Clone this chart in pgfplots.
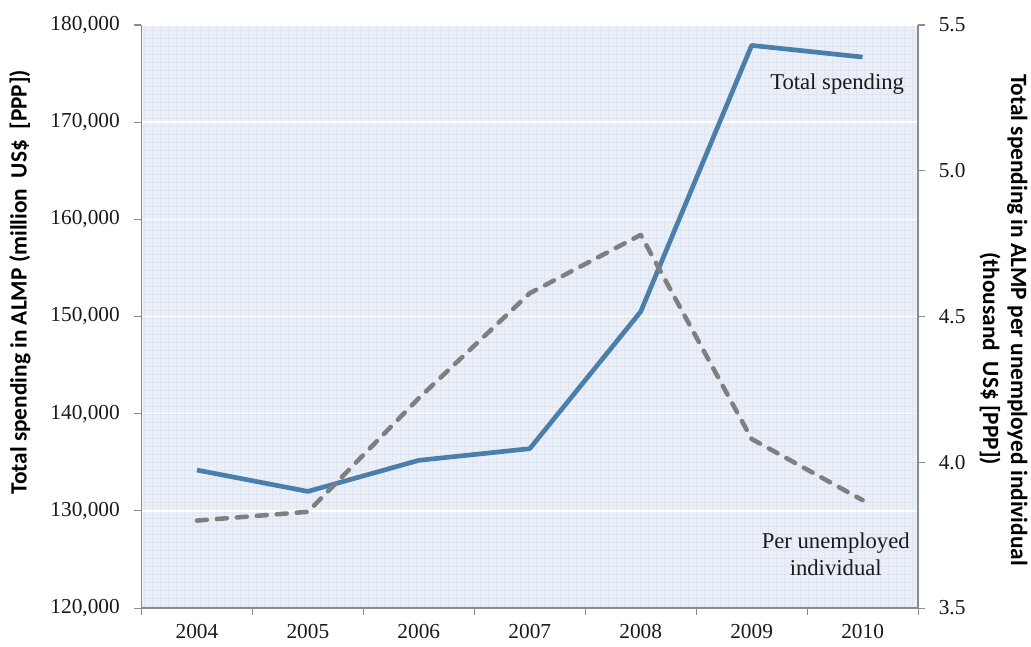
\documentclass[border=0pt]{standalone}
\usepackage{fontspec}
\setmainfont{Liberation Serif}
\newfontfamily\carlito{Carlito}
\usepackage{pgfplots}
\pgfplotsset{compat=1.18}
\usetikzlibrary{patterns.meta}
\definecolor{bgblue}{HTML}{E9EEF7}
\definecolor{patblue}{HTML}{DFE6F2}
\definecolor{axisgray}{HTML}{8C8C8C}
\definecolor{blueline}{HTML}{4A7EAB}
\definecolor{grayline}{HTML}{7F7F7F}
\definecolor{txt}{HTML}{1A1A1A}
\begin{document}
\begin{tikzpicture}
\path[use as bounding box] (-106.1pt,-28.5pt) rectangle (667.1pt,456pt);
\pgfplotsset{
  common/.style={
    scale only axis, width=582.4pt, height=437.25pt,
    xmin=-0.5, xmax=6.5,
    tick align=outside,
    major tick length=5.25pt,
    minor tick length=5.25pt,
    tick style={draw=axisgray, line width=0.8pt},
    axis line style={draw=axisgray, line width=1.2pt, -},
    tick label style={font=\fontsize{16}{19}\selectfont, text=txt},
    /pgf/number format/assume math mode=true,
    /pgf/number format/1000 sep={,},
    label style={font=\carlito\bfseries\fontsize{17.5}{21}\selectfont, text=black},
  }
}
\begin{axis}[common,
  ymin=120000, ymax=180000,
  axis x line*=bottom, axis y line*=left,
  xtick={0,...,6}, xticklabels={2004,2005,2006,2007,2008,2009,2010},
  major x tick style={draw=none},
  minor xtick={-0.5,0.5,...,6.5},
  x tick label style={yshift=-5.5pt, inner sep=1pt},
  ytick={120000,130000,...,180000},
  scaled y ticks=false,
  y tick label style={xshift=-7.5pt, /pgf/number format/.cd, fixed, precision=0, 1000 sep={,}, /tikz/.cd},
  ymajorgrids, major grid style={white, line width=1.1pt},
  axis background/.style={fill=bgblue, postaction={pattern={Hatch[angle=0,distance=6pt,line width=0.4pt]}, pattern color=patblue}},
  ylabel={Total spending in ALMP (million~ US\$~ [PPP])},
  ylabel style={at={(axis description cs:-0.1565,0.559)}, anchor=center},
]
\addplot[blueline, line width=3.5pt, line join=round] coordinates {(0,134200) (1,132000) (2,135200) (3,136400) (4,150500) (5,177900) (6,176700)};
\end{axis}
\begin{axis}[common,
  ymin=3.5, ymax=5.5,
  axis x line=none, axis y line*=right,
  ytick={3.5,4,...,5.5},
  y tick label style={xshift=6.75pt, /pgf/number format/.cd, fixed, fixed zerofill, precision=1, /tikz/.cd},
  ylabel={Total spending in ALMP per unemployed individual\\\hspace*{58pt}(thousand~ US\$ [PPP])},
  ylabel style={at={(axis description cs:1.11,0.494)}, anchor=center, rotate=180, align=center},
]
\addplot[grayline, line width=3.4pt, line cap=round, line join=round, dash pattern=on 7.5pt off 7.5pt] coordinates {(0,3.80) (1,3.83) (2,4.22) (3,4.58) (4,4.78) (5,4.08) (6,3.87)};
\node[anchor=base east, font=\fontsize{17}{20}\selectfont, text=txt] at (rel axis cs:0.988,0.890) {Total spending};
\node[anchor=base, font=\fontsize{17}{20}\selectfont, text=txt] at (rel axis cs:0.894,0.1029) {Per unemployed};
\node[anchor=base, font=\fontsize{17}{20}\selectfont, text=txt] at (rel axis cs:0.894,0.0566) {individual};
\end{axis}
\end{tikzpicture}
\end{document}
